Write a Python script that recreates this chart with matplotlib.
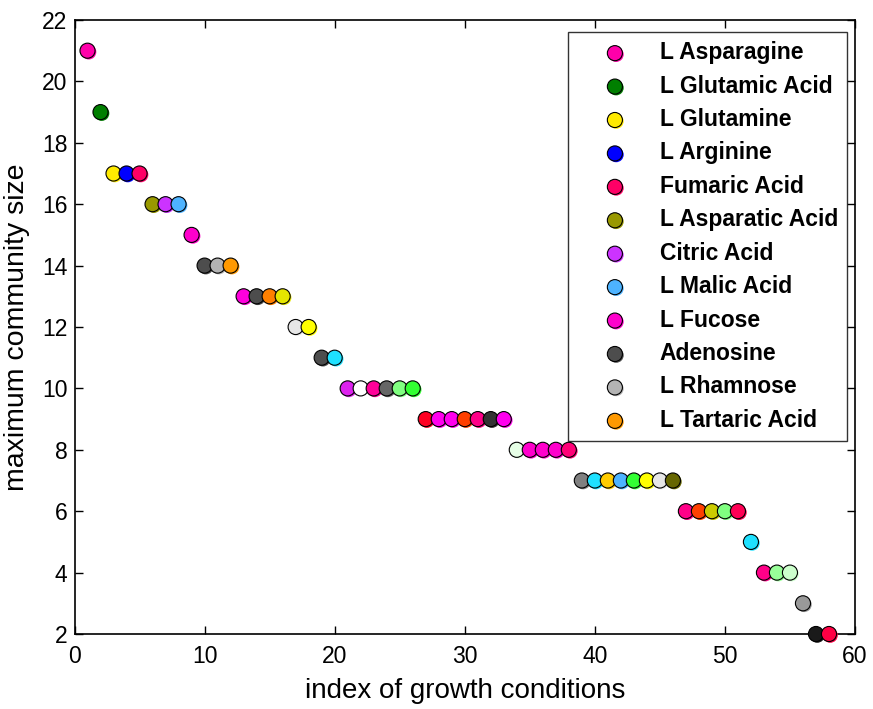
import matplotlib
matplotlib.use("Agg")
import matplotlib.pyplot as plt
import matplotlib.patheffects as pe

# index of growth condition -> maximum community size
index = list(range(1, 59))
size = [21, 19, 17, 17, 17, 16, 16, 16, 15, 14, 14, 14,
        13, 13, 13, 13, 12, 12, 11, 11,
        10, 10, 10, 10, 10, 10,
        9, 9, 9, 9, 9, 9, 9,
        8, 8, 8, 8, 8,
        7, 7, 7, 7, 7, 7, 7, 7,
        6, 6, 6, 6, 6,
        5, 4, 4, 4, 3, 2, 2]
colors = ['#ff00aa', '#007f00', '#ffea00', '#0000ff', '#ff0066', '#999900',
          '#cc33ff', '#4db3ff', '#ff00cc', '#4d4d4d', '#b3b3b3', '#ff9900',
          '#ff00dd', '#4d4d4d', '#ff8000', '#e6e600', '#e6e6e6', '#ffff00',
          '#4d4d4d', '#1ee1ff',
          '#dd22ee', '#ffffff', '#ff0099', '#666666', '#80ff80', '#33ff33',
          '#ff0022', '#ff00ee', '#ff00ee', '#ff4000', '#ff0088', '#333333', '#ff00ee',
          '#e6ffe6', '#ff00cc', '#ff00cc', '#ff00cc', '#ff0077',
          '#808080', '#1ee1ff', '#ffcc00', '#4db3ff', '#33ff33', '#ffff00', '#e6e6e6', '#666600',
          '#ff0088', '#ff4000', '#cccc00', '#80ff80', '#ff0055',
          '#1ee1ff', '#ff0088', '#99ff99', '#ccffcc', '#999999', '#1a1a1a', '#ff0044']
labels = ['L Asparagine', 'L Glutamic Acid', 'L Glutamine', 'L Arginine',
          'Fumaric Acid', 'L Asparatic Acid', 'Citric Acid', 'L Malic Acid',
          'L Fucose', 'Adenosine', 'L Rhamnose', 'L Tartaric Acid']

plt.rcParams['font.family'] = ['Liberation Sans', 'DejaVu Sans']

fig = plt.figure(figsize=(8.73, 7.09), dpi=100)
ax = fig.add_axes([74.5 / 873, 1 - 634 / 709, (855 - 74.5) / 873, (634 - 20) / 709])

shadow = [pe.SimplePatchShadow(offset=(0.9, -0.9), rho=1.0, alpha=1.0), pe.Normal()]
for i, (x, y, c) in enumerate(zip(index, size, colors)):
    lab = labels[i] if i < len(labels) else '_nolegend_'
    ax.scatter(x, y, s=118, c=c, edgecolors='black', linewidths=0.8,
               label=lab, zorder=3, clip_on=False, path_effects=shadow)

ax.set_xlim(0, 60)
ax.set_ylim(2, 22)
ax.set_xticks(range(0, 61, 10))
ax.set_yticks(range(2, 23, 2))
ax.tick_params(direction='in', length=6, width=1, top=True, right=True,
               labelsize=16.5)
ax.tick_params(axis='x', pad=8)
ax.tick_params(axis='y', pad=5)
for sp in ax.spines.values():
    sp.set_linewidth(1.2)

ax.set_xlabel('index of growth conditions', fontsize=20, labelpad=7)
ax.set_ylabel('maximum community size', fontsize=20.5, labelpad=9)

leg = ax.legend(loc='upper right', bbox_to_anchor=(847 / 873, 1 - 32 / 709),
                bbox_transform=fig.transFigure, borderaxespad=0,
                prop={'weight': 'bold', 'size': 16.5},
                frameon=True, fancybox=False, edgecolor='black',
                handlelength=3.3, handletextpad=0.3, borderpad=0.4,
                labelspacing=0.455, markerscale=1.0)
leg.get_frame().set_linewidth(1.0)
leg.set_zorder(5)

fig.savefig('out.png', dpi=100)
